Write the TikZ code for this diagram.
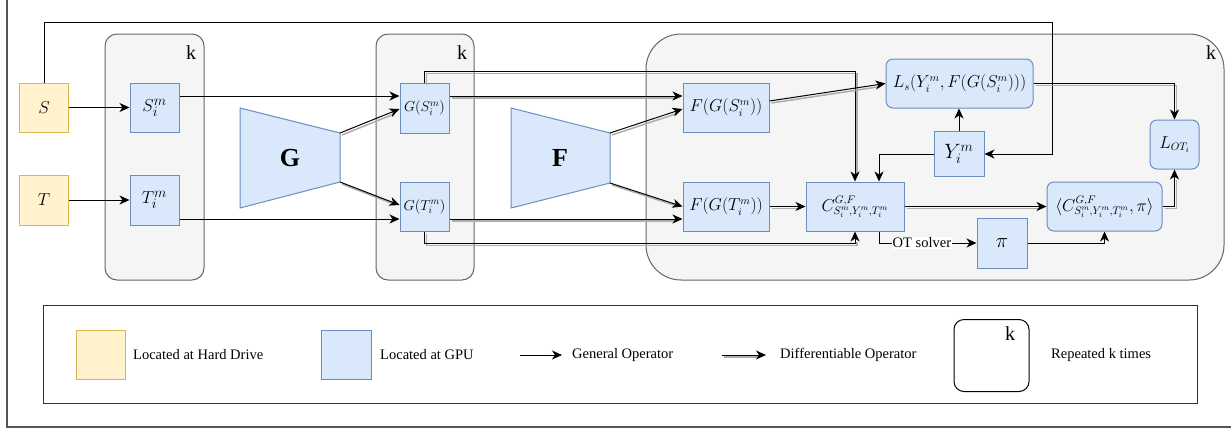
\documentclass[tikz,border=0pt]{standalone}
\usepackage{fontspec}
\setmainfont{Liberation Serif}
\usetikzlibrary{arrows.meta,calc}
\definecolor{bfill}{HTML}{DAE8FC}
\definecolor{bdraw}{HTML}{6C8EBF}
\definecolor{yfill}{HTML}{FFF2CC}
\definecolor{ydraw}{HTML}{D6B656}
\definecolor{cfill}{HTML}{F5F5F5}
\definecolor{cdraw}{HTML}{666666}
\definecolor{shadowgray}{HTML}{ADADAD}
\definecolor{framegray}{HTML}{555555}
\begin{document}
\begin{tikzpicture}[x=1pt,y=-1pt,
  box/.style={draw=bdraw, fill=bfill, line width=1pt, inner sep=0pt},
  ybox/.style={draw=ydraw, fill=yfill, line width=1pt, inner sep=0pt, minimum width=49pt, minimum height=49pt},
  rbox/.style={box, rounded corners=7pt},
  container/.style={draw=cdraw, fill=cfill, line width=1pt, rounded corners=12pt, inner sep=0pt},
  trap/.style={draw=bdraw, fill=bfill, line width=1pt},
  conn/.style={line width=1pt, -{Stealth[length=10pt,width=9pt,inset=3pt]}},
  diff/.style={conn, preaction={draw=shadowgray, line width=1.5pt, -, shorten >=8pt, transform canvas={shift={(2pt,-2pt)}}}},
  mbig/.style={font=\fontsize{19}{22}\selectfont},
  mmid/.style={font=\fontsize{16}{19}\selectfont},
  msmall/.style={font=\fontsize{14}{16}\selectfont},
  klabel/.style={font=\fontsize{20}{23}\selectfont, inner sep=0pt},
  txt/.style={font=\fontsize{14.5}{17}\selectfont, inner sep=0pt, anchor=west},
  bigletter/.style={font=\fontsize{26}{30}\selectfont},
]
\useasboundingbox (0,0) rectangle (1231,432);
% outer frame (partially visible)
\draw[framegray, line width=1.5pt] (7,0) -- (7,427) -- (1231,427);

% containers
\node[container, minimum width=99pt, minimum height=246pt] (cont1) at (154.5,157) {};
\node[klabel] (k1) at (191,53) {k};
\node[container, minimum width=98pt, minimum height=246pt] (cont2) at (425,157) {};
\node[klabel] (k2) at (462,53) {k};
\node[container, rounded corners=35pt, minimum width=578pt, minimum height=246pt] (cont3) at (935,157) {};
\node[klabel] (k3) at (1211,53) {k};

% hard drive inputs
\node[ybox, mbig] (S) at (44,107.5) {$S$};
\node[ybox, mbig, minimum height=50pt] (T) at (44,200) {$T$};

% first stage
\node[box, mbig, minimum width=49pt, minimum height=49pt] (Sim) at (154.5,107.5) {$S_i^m$};
\node[box, mbig, minimum width=49pt, minimum height=50pt] (Tim) at (154.5,200) {$T_i^m$};

% G network
\draw[trap] (240,108) -- (340,133) -- (340,182) -- (240,208) -- cycle;
\coordinate (Gtr) at (340,133);
\coordinate (Gbr) at (340,182);
\node[bigletter] (G) at (290,158) {$\mathbf{G}$};

% second stage
\node[box, msmall, minimum width=49pt, minimum height=50pt] (GS) at (424.5,108) {$G(S_i^m)$};
\node[box, msmall, minimum width=49pt, minimum height=49pt] (GT) at (424.5,206.5) {$G(T_i^m)$};

% F network
\draw[trap] (511,108) -- (610,133) -- (610,183) -- (511,208) -- cycle;
\coordinate (Ftr) at (610,133);
\coordinate (Fbr) at (610,183);
\node[bigletter] (F) at (560,158) {$\mathbf{F}$};

% third stage
\node[box, mmid, minimum width=86pt, minimum height=49pt] (FGS) at (726,107.5) {$F(G(S_i^m))$};
\node[box, mmid, minimum width=86pt, minimum height=49pt] (FGT) at (726,206.5) {$F(G(T_i^m))$};
\node[rbox, mmid, minimum width=147pt, minimum height=49pt] (Ls) at (959.5,83.5) {$L_s(Y_i^m,F(G(S_i^m)))$};
\node[box, font=\fontsize{20}{23}\selectfont, minimum width=50pt, minimum height=45pt] (Y) at (959,154) {$Y_i^m$};
\node[rbox, mmid, minimum width=49pt, minimum height=49pt] (LOT) at (1174.5,144.5) {$L_{OT_i}$};
\node[box, mmid, minimum width=98pt, minimum height=49pt] (C) at (855,206.5) {$C^{G,F}_{S_i^m,Y_i^m,T_i^m}$};
\node[rbox, mmid, minimum width=115pt, minimum height=49pt] (Cpi) at (1104.5,206.5) {$\langle C^{G,F}_{S_i^m,Y_i^m,T_i^m},\pi\rangle$};
\node[box, font=\fontsize{21}{24}\selectfont, minimum width=50pt, minimum height=50pt] (pi) at (1002,243) {$\pi$};

% loop from S to Y
\coordinate (loopc) at (1052,22);
\draw[conn] (S.north) |- (loopc) |- (Y.east);

% general operators
\draw[conn] (S.east) -- (Sim.west);
\draw[conn] (T.east) -- (Tim.west);
\draw[conn] ([yshift=11.5pt]Sim.east) -- ([yshift=12pt]GS.west);
\draw[conn] ([yshift=-19pt]Tim.east) -- ([yshift=-12.5pt]GT.west);
\draw[conn] (Y.north) -- (Y.north |- Ls.south);
\draw[conn] (Y.west) -| ([xshift=24pt]C.north);
\draw[conn] ([xshift=24pt]C.south) |- node[pos=0.72, fill=white, txt, anchor=center, inner sep=1pt] (ots) {OT solver} (pi.west);
\draw[conn] (pi.east) -| (Cpi.south);

% differentiable operators
\draw[diff] (Gtr) -- ([yshift=-1pt]GS.west);
\draw[diff] (Gbr) -- ([yshift=1.5pt]GT.west);
\draw[diff] ([yshift=12pt]GS.east) -- ([yshift=11.5pt]FGS.west);
\draw[diff] ([yshift=-12.5pt]GT.east) -- ([yshift=-12.5pt]FGT.west);
\draw[diff] (Ftr) -- ([yshift=-1.5pt]FGS.west);
\draw[diff] (Fbr) -- (FGT.west);
\draw[diff] (GS.north) -- ++(0,-11) -| (C.north);
\draw[diff] (GT.south) -- ++(0,12) -| (C.south);
\draw[diff] ([yshift=6.5pt]FGS.east) -- (Ls.west);
\draw[diff] (FGT.east) -- (C.west);
\draw[diff] (C.east) -- (Cpi.west);
\draw[diff] (Ls.east) -| (LOT.north);
\draw[diff] (Cpi.east) -| (LOT.south);

% legend
\node[draw=black!80, line width=1pt, minimum width=1154pt, minimum height=98pt, inner sep=0pt] (legend) at (620,354) {};
\node[ybox, minimum height=49pt] (lgy) at (100.5,354.5) {};
\node[txt] (lgyt) at (133,355) {Located at Hard Drive};
\node[box, minimum width=50pt, minimum height=49pt] (lgb) at (346,354.5) {};
\node[txt] (lgbt) at (380,355) {Located at GPU};
\coordinate (lga1) at (520,355);
\coordinate (lga2) at (562,355);
\draw[conn] (lga1) -- (lga2);
\node[txt] (lgat) at (572,355) {General Operator};
\coordinate (lgd1) at (722,355);
\coordinate (lgd2) at (766,355);
\draw[diff] (lgd1) -- (lgd2);
\node[txt] (lgdt) at (780,355) {Differentiable Operator};
\node[draw=black, line width=1pt, rounded corners=10pt, minimum width=75pt, minimum height=72pt, inner sep=0pt] (lgk) at (991.5,355.5) {};
\node[klabel] (lgkk) at (1010,334) {k};
\node[txt] (lgkt) at (1051,355) {Repeated k times};
\end{tikzpicture}
\end{document}
